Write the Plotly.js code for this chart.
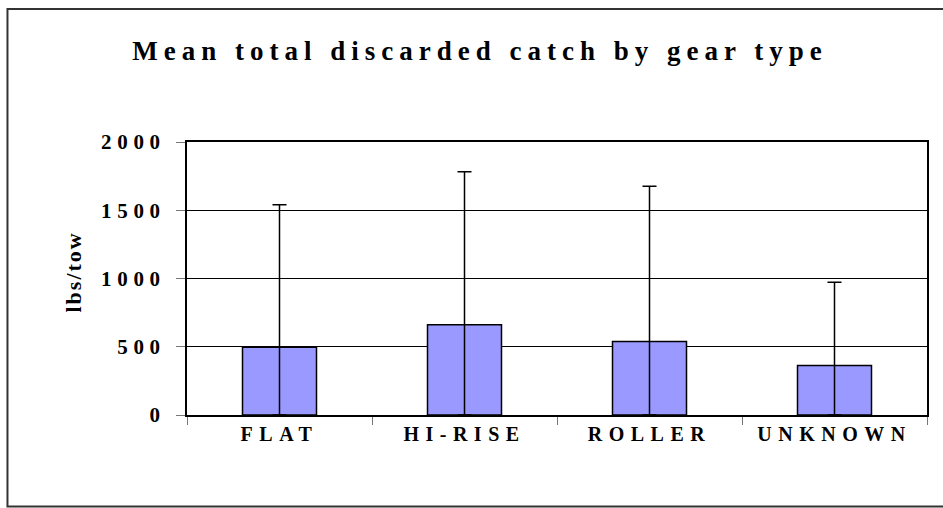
<!DOCTYPE html>
<html>
<head>
<meta charset="utf-8">
<script src="https://cdn.plot.ly/plotly-3.0.1.min.js"></script>
<style>
  html, body { margin: 0; padding: 0; background: #fff; }
  #chart { width: 943px; height: 508px; }
  #chart .gtitle { letter-spacing: 6px; }
  #chart g.ytick text { letter-spacing: 5.7px; }
  #chart g.xtick text { letter-spacing: 6.5px; }
  #chart .annotation-text { letter-spacing: 2px; }
</style>
</head>
<body>
<div id="chart"></div>
<script>
// Data
const categories = ["FLAT", "HI-RISE", "ROLLER", "UNKNOWN"];
const meanCatch = [497, 661, 538, 362];          // bar heights (lbs/tow)
const errorPlus = [1043, 1121, 1137, 610];       // upper error bar lengths
const yTickValues = [0, 500, 1000, 1500, 2000];
const yTickLabels = ["0", "500", "1000", "1500", "2000"];
const yAxisLabel = "lbs/tow";
const chartTitle = "Mean total discarded catch by gear type";

const serif = "Liberation Serif, Times New Roman, serif";

const trace = {
  type: "bar",
  x: categories,
  y: meanCatch,
  marker: { color: "#9999FF", line: { color: "#000000", width: 1.5 } },
  error_y: {
    type: "data",
    symmetric: false,
    array: errorPlus,
    arrayminus: meanCatch,
    color: "#000000",
    thickness: 1.5,
    width: 7
  },
  hoverinfo: "none"
};

const layout = {
  width: 943,
  height: 508,
  margin: { l: 187, r: 16, t: 142, b: 93, pad: 0 },
  paper_bgcolor: "#ffffff",
  plot_bgcolor: "#ffffff",
  showlegend: false,
  bargap: 0.6,
  title: {
    text: chartTitle,
    font: { family: serif, size: 27, color: "#000000", weight: "bold" },
    xref: "container",
    yref: "container",
    x: 0.509,
    xanchor: "center",
    y: 0.90,
    yanchor: "middle"
  },
  xaxis: {
    type: "category",
    tickson: "boundaries",
    ticks: "outside",
    ticklen: 8,
    tickcolor: "#777777",
    tickwidth: 1,
    showline: true,
    linecolor: "#000000",
    linewidth: 2,
    mirror: true,
    showgrid: false,
    tickfont: { family: serif, size: 20, color: "#000000", weight: "bold" },
    ticklabelstandoff: 0
  },
  yaxis: {
    range: [0, 2000],
    tickvals: yTickValues,
    ticktext: yTickLabels,
    ticks: "outside",
    ticklen: 9,
    tickcolor: "#777777",
    tickwidth: 1,
    showline: true,
    linecolor: "#000000",
    linewidth: 2,
    mirror: true,
    showgrid: true,
    gridcolor: "#000000",
    gridwidth: 1,
    zeroline: false,
    tickfont: { family: serif, size: 21, color: "#000000", weight: "bold" },
    ticklabelstandoff: 6
  },
  annotations: [{
    text: yAxisLabel,
    xref: "paper", yref: "paper",
    x: -0.1547, y: 0.5238,
    xanchor: "center", yanchor: "middle",
    textangle: -90,
    showarrow: false,
    font: { family: serif, size: 22, color: "#000000", weight: "bold" }
  }],
  shapes: [{
    type: "rect",
    xref: "paper", yref: "paper",
    x0: -0.2426, x1: 1.0243, y0: -0.3352, y1: 1.4872,
    line: { color: "#333333", width: 2 },
    fillcolor: "rgba(0,0,0,0)",
    layer: "above"
  }]
};

Plotly.newPlot("chart", [trace], layout, { displayModeBar: false, staticPlot: true });
</script>
</body>
</html>
